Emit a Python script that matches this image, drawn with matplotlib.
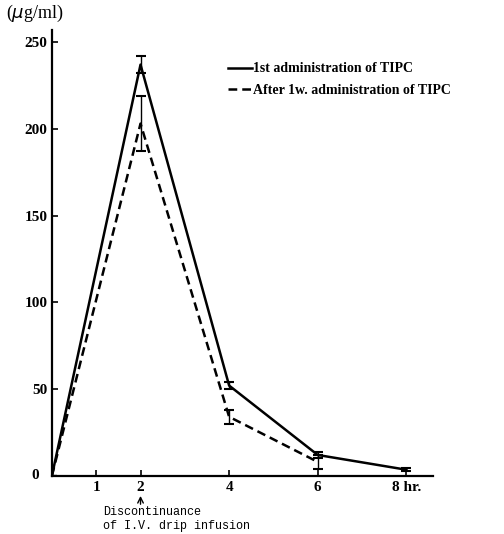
import matplotlib
matplotlib.use('Agg')
import matplotlib.pyplot as plt
from matplotlib.lines import Line2D

# Данные
hours = [0, 2, 4, 6, 8]
first_adm = [0, 237, 52, 12, 3.5]
first_err = [0, 5, 2, 2, 1]

hours_1w = [0, 2, 4, 6]
after_1w = [0, 203, 34, 8]
after_err = [0, 16, 4, 4]

labels = ['1st administration of TIPC', 'After 1w. administration of TIPC']
xticks = [1, 2, 4, 6, 8]
xticklabels = ['1', '2', '4', '6', '8 hr.']
yticks = [0, 50, 100, 150, 200, 250]

plt.rcParams['font.family'] = ['Liberation Serif', 'DejaVu Serif']
dash = (0, (3.5, 2))

fig = plt.figure(figsize=(5.04, 5.34), dpi=100)
ax = fig.add_axes([0.103, 0.109, 0.756, 0.835])

ax.errorbar(hours, first_adm, yerr=first_err, color='black', lw=1.8,
            capsize=3.5, elinewidth=1.0, capthick=1.5)
ax.errorbar(hours_1w, after_1w, yerr=after_err, color='black', lw=1.8,
            ls=dash, capsize=3.5, elinewidth=1.0, capthick=1.5)

ax.set_xlim(0, 8.6)
ax.set_ylim(0, 257)
ax.set_xticks(xticks)
ax.set_xticklabels(xticklabels)
ax.set_yticks(yticks)
ax.set_yticklabels([str(v) if v else '' for v in yticks])
ax.tick_params(direction='in', length=4, width=1.2, labelsize=11)
ax.tick_params(axis='y', pad=3)
for s in ['top', 'right']:
    ax.spines[s].set_visible(False)
for s in ['left', 'bottom']:
    ax.spines[s].set_linewidth(1.6)
for lbl in ax.get_xticklabels() + ax.get_yticklabels():
    lbl.set_fontweight('bold')

# 0 в углу
ax.text(-0.035, 0, '0', transform=ax.get_yaxis_transform(), ha='right',
        va='center', fontsize=11, fontweight='bold')

# подпись оси Y
fig.text(0.012, 0.974, '($\\mu$g/ml)', fontsize=13, ha='left', va='center')

# легенда
handles = [Line2D([], [], color='black', lw=1.8),
           Line2D([], [], color='black', lw=1.8, ls=dash)]
leg = ax.legend(handles, labels, loc='upper left',
                bbox_to_anchor=(0.43, 0.955), frameon=False,
                handlelength=1.7, handletextpad=0.05, fontsize=10,
                labelspacing=0.6)
for t in leg.get_texts():
    t.set_fontweight('bold')

# стрелка и пояснение
ax.annotate('', xy=(2, -10), xytext=(2, -18),
            arrowprops=dict(arrowstyle='->', lw=1.0, color='black'),
            annotation_clip=False)
fig.text(0.204, 0.028, 'Discontinuance\nof I.V. drip infusion',
         family=['Liberation Mono', 'DejaVu Sans Mono'], fontsize=8.5,
         ha='left', va='center', linespacing=1.25)

fig.savefig('out.png', dpi=100)
